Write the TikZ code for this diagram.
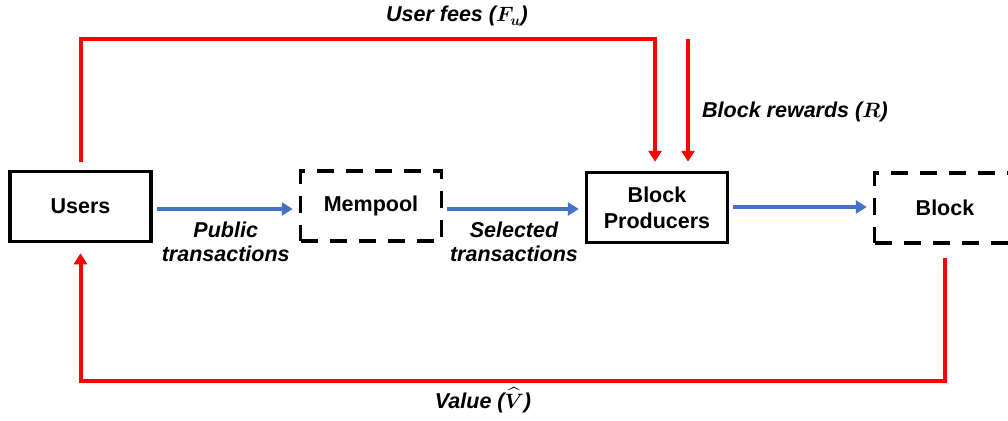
\documentclass[tikz,border=0pt]{standalone}
\usepackage{amsmath}
\usepackage{fontspec}
\setmainfont{Liberation Sans}
\usepackage{tikz}
\usetikzlibrary{arrows.meta, positioning}
\definecolor{flowblue}{RGB}{68, 114, 196}
\newcommand{\boxfont}{\fontsize{21.5}{26}\selectfont\bfseries}
\newcommand{\labfont}{\fontsize{21.5}{24}\selectfont\bfseries\itshape}
\tikzset{
	box/.style={draw, line width=3.5pt, minimum width=141pt, minimum height=70pt, font=\boxfont, align=center},
	dashbox/.style={box, dash pattern=on 17pt off 12pt},
	flow/.style={draw=flowblue, line width=4pt, -{Triangle[length=11pt, width=13pt]}, shorten <=4pt, shorten >=6pt},
	money/.style={draw=red, line width=4pt, -{Triangle[length=11pt, width=13pt]}},
	lab/.style={font=\labfont, align=center, inner sep=0pt}
}

\begin{document}
\begin{tikzpicture}[x=1pt, y=-1pt]
		\useasboundingbox (0,0) rectangle (1008,420);
		\clip (0,0) rectangle (1008,420);
		% the four stages
		\node [box] (users) at (80.5,206.5) {Users};
		\node [dashbox] (mempool) at (371,206) {Mempool};
		\node [box] (producers) at (657,207.5) {Block\\Producers};
		\node [dashbox] (block) at (945,208) {Block};
		% transactions
		\draw [flow] ([yshift=-2.5pt]users.east) -- node [lab, below=11pt] {Public\\transactions} ([yshift=-3pt]mempool.west);
		\draw [flow] ([yshift=-3pt]mempool.east) -- node [lab, below=11pt] {Selected\\transactions} ([yshift=-1.5pt]producers.west);
		\draw [flow] ([yshift=0.5pt]producers.east) -- ([yshift=1pt]block.west);
		% fees, rewards and value
		\draw [money, shorten <=8pt, shorten >=9pt] (users.north) -- ++(0,-131) -| ([xshift=-2pt]producers.north);
		\coordinate (rewardstart) at (688,39);
		\draw [money, shorten >=9pt] (rewardstart) -- (rewardstart |- producers.north);
		\draw [money, shorten <=13pt, shorten >=10pt] (block.south) -- ++(0,136) -| (users.south);
		\node [lab, anchor=base] (feelabel) at (457,22) {User fees ($\boldsymbol{F_u}$)};
		\node [lab, anchor=base west] (rewardlabel) at (702,117) {Block rewards ($\boldsymbol{R}$)};
		\node [lab, anchor=base] (valuelabel) at (483,408) {Value ($\boldsymbol{\widehat{V}}$)};
	\end{tikzpicture}
\end{document}
